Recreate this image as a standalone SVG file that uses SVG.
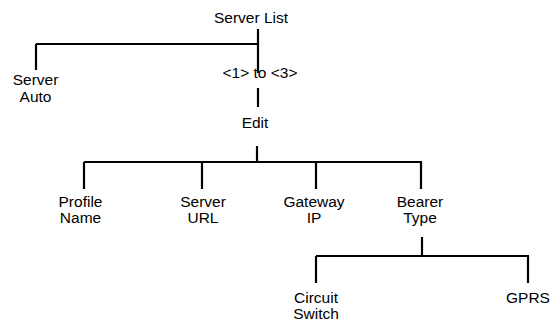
<svg xmlns="http://www.w3.org/2000/svg" width="550" height="323" viewBox="0 0 550 323">
  <style>
    .lbl { font-family: "Liberation Sans", Arial, sans-serif; font-size: 15.5px; fill: #000; text-anchor: middle; }
    .wire { stroke: #000; stroke-width: 2.2; fill: none; stroke-linecap: butt; }
  </style>
  <rect width="550" height="323" fill="#fff"/>

  <!-- connectors -->
  <g id="connectors" class="wire">
    <!-- Server List to its children -->
    <path d="M258 29 V73"/>
    <path d="M36 44 H258"/>
    <path d="M36 44 V70"/>
    <!-- <1> to <3> to Edit -->
    <path d="M258 88 V107"/>
    <!-- Edit to its children -->
    <path d="M257 146 V162"/>
    <path d="M84 162 H422"/>
    <path d="M84 162 V189"/>
    <path d="M202 162 V189"/>
    <path d="M316 162 V189"/>
    <path d="M421 162 V189"/>
    <!-- Bearer Type to its children -->
    <path d="M422 237 V256"/>
    <path d="M316 256 H529"/>
    <path d="M316 256 V283"/>
    <path d="M528 256 V283"/>
  </g>

  <g id="server-list"><text class="lbl" x="251" y="23">Server List</text></g>
  <g id="server-auto">
    <text class="lbl" x="35.5" y="85">Server</text>
    <text class="lbl" x="35.5" y="102">Auto</text>
  </g>
  <g id="range"><text class="lbl" x="260" y="78">&lt;1&gt; to &lt;3&gt;</text></g>
  <g id="edit"><text class="lbl" x="255" y="128">Edit</text></g>
  <g id="profile-name">
    <text class="lbl" x="80.5" y="207">Profile</text>
    <text class="lbl" x="80.5" y="223">Name</text>
  </g>
  <g id="server-url">
    <text class="lbl" x="203" y="207">Server</text>
    <text class="lbl" x="203" y="223">URL</text>
  </g>
  <g id="gateway-ip">
    <text class="lbl" x="314" y="207">Gateway</text>
    <text class="lbl" x="314" y="223">IP</text>
  </g>
  <g id="bearer-type">
    <text class="lbl" x="420" y="207">Bearer</text>
    <text class="lbl" x="420" y="223">Type</text>
  </g>
  <g id="circuit-switch">
    <text class="lbl" x="316" y="303">Circuit</text>
    <text class="lbl" x="316" y="319">Switch</text>
  </g>
  <g id="gprs"><text class="lbl" x="528" y="303">GPRS</text></g>
</svg>
